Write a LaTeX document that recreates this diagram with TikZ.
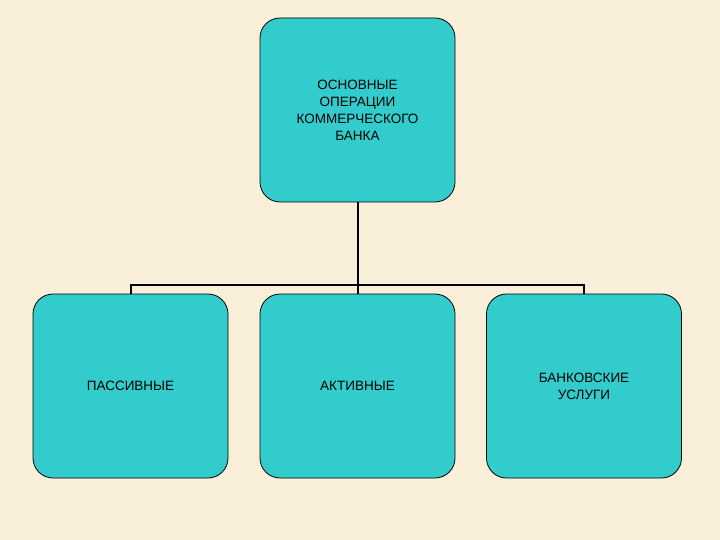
\documentclass[tikz,border=0pt]{standalone}
\usepackage{fontspec}
\setmainfont{Liberation Sans}
\definecolor{bg}{HTML}{FAF0DA}
\definecolor{teal}{HTML}{33CCCC}
\begin{document}
\begin{tikzpicture}[x=1pt,y=-1pt,
  box/.style={draw=black, line width=0.8pt, fill=teal, rounded corners=20pt, minimum width=195pt, minimum height=184pt, align=center, font=\fontsize{13.5}{17}\selectfont, inner sep=0pt},
  conn/.style={line width=2pt}]
\fill[bg] (0,0) rectangle (720,540);
\node[box] (top) at (357.5,110) {ОСНОВНЫЕ\\ОПЕРАЦИИ\\КОММЕРЧЕСКОГО\\БАНКА};
\node[box] (p) at (130.5,386) {ПАССИВНЫЕ};
\node[box] (a) at (357.5,386) {АКТИВНЫЕ};
\node[box] (u) at (584,386) {БАНКОВСКИЕ\\УСЛУГИ};
\coordinate (j) at (357.5,285);
\draw[conn] (top.south) -- (j);
\draw[conn] (j) -| (p.north);
\draw[conn] (j) -| (u.north);
\draw[conn] (j) -- (a.north);
\end{tikzpicture}
\end{document}
